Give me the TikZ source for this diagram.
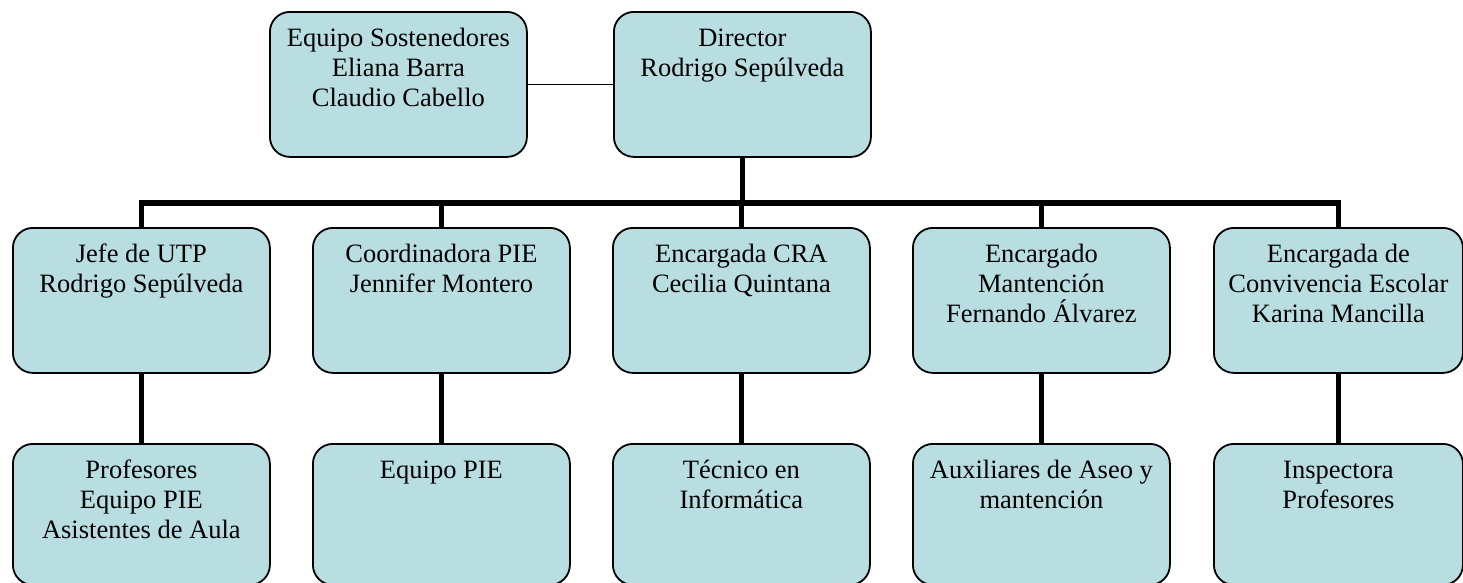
\documentclass[tikz,border=0pt]{standalone}
\usepackage{fontspec}
\setmainfont{Liberation Serif}
\definecolor{boxfill}{HTML}{B9DEE2}
\begin{document}
\begin{tikzpicture}[x=1pt,y=-1pt,
  box/.style={draw=black, line width=1.8pt, fill=boxfill, rounded corners=20pt,
    minimum width=257pt, minimum height=145pt, inner sep=0pt, anchor=north west},
  lowbox/.style={box, minimum height=141pt},
  txt/.style={anchor=north, align=center, inner sep=0pt, font=\fontsize{26.5}{30}\selectfont},
  heavy/.style={line width=5.5pt},
  light/.style={line width=1.6pt}]
\useasboundingbox (0,0) rectangle (1463,582);
\coordinate (bus) at (0,203);
% top row
\node[box] (sost) at (269,11) {};
\node[box] (dir) at (613,11) {};
% second row
\node[box] (utp) at (12,227) {};
\node[box] (pie) at (312,227) {};
\node[box] (cra) at (612,227) {};
\node[box] (mant) at (912,227) {};
\node[box, minimum width=249pt] (conv) at (1213,227) {};
% third row
\node[lowbox] (prof) at (12,443) {};
\node[lowbox] (epie) at (312,443) {};
\node[lowbox] (tec) at (612,443) {};
\node[lowbox] (aux) at (912,443) {};
\node[lowbox, minimum width=249pt] (insp) at (1213,443) {};
% texts
\node[txt] (tsost) at ([yshift=-15pt]sost.north) {\rule{0pt}{20pt}Equipo Sostenedores\\Eliana Barra\\Claudio Cabello};
\node[txt] (tdir) at ([yshift=-15pt]dir.north) {\rule{0pt}{20pt}Director\\Rodrigo Sepúlveda};
\node[txt] (tutp) at ([yshift=-15pt]utp.north) {\rule{0pt}{20pt}Jefe de UTP\\Rodrigo Sepúlveda};
\node[txt] (tpie) at ([yshift=-15pt]pie.north) {\rule{0pt}{20pt}Coordinadora PIE\\Jennifer Montero};
\node[txt] (tcra) at ([yshift=-15pt]cra.north) {\rule{0pt}{20pt}Encargada CRA\\Cecilia Quintana};
\node[txt] (tmant) at ([yshift=-15pt]mant.north) {\rule{0pt}{20pt}Encargado\\Mantención\\Fernando Álvarez};
\node[txt] (tconv) at ([yshift=-15pt]conv.north) {\rule{0pt}{20pt}Encargada de\\Convivencia Escolar\\Karina Mancilla};
\node[txt] (tprof) at ([yshift=-15pt]prof.north) {\rule{0pt}{20pt}Profesores\\Equipo PIE\\Asistentes de Aula};
\node[txt] (tepie) at ([yshift=-15pt]epie.north) {\rule{0pt}{20pt}Equipo PIE};
\node[txt] (ttec) at ([yshift=-15pt]tec.north) {\rule{0pt}{20pt}Técnico en\\Informática};
\node[txt] (taux) at ([yshift=-15pt]aux.north) {\rule{0pt}{20pt}Auxiliares de Aseo y\\mantención};
\node[txt] (tinsp) at ([yshift=-15pt]insp.north) {\rule{0pt}{20pt}Inspectora\\Profesores};
% connectors
\draw[light] (sost.east) -- (dir.west);
\draw[heavy] (dir.south) -- (dir.south |- bus);
\draw[heavy] (utp.north) -- (utp.north |- bus) -- (conv.north |- bus) -- (conv.north);
\foreach \n in {pie,cra,mant}{\draw[heavy] (\n.north) -- (\n.north |- bus);}
\draw[heavy] (utp.south) -- (prof.north);
\draw[heavy] (pie.south) -- (epie.north);
\draw[heavy] (cra.south) -- (tec.north);
\draw[heavy] (mant.south) -- (aux.north);
\draw[heavy] (conv.south) -- (insp.north);
\end{tikzpicture}
\end{document}
